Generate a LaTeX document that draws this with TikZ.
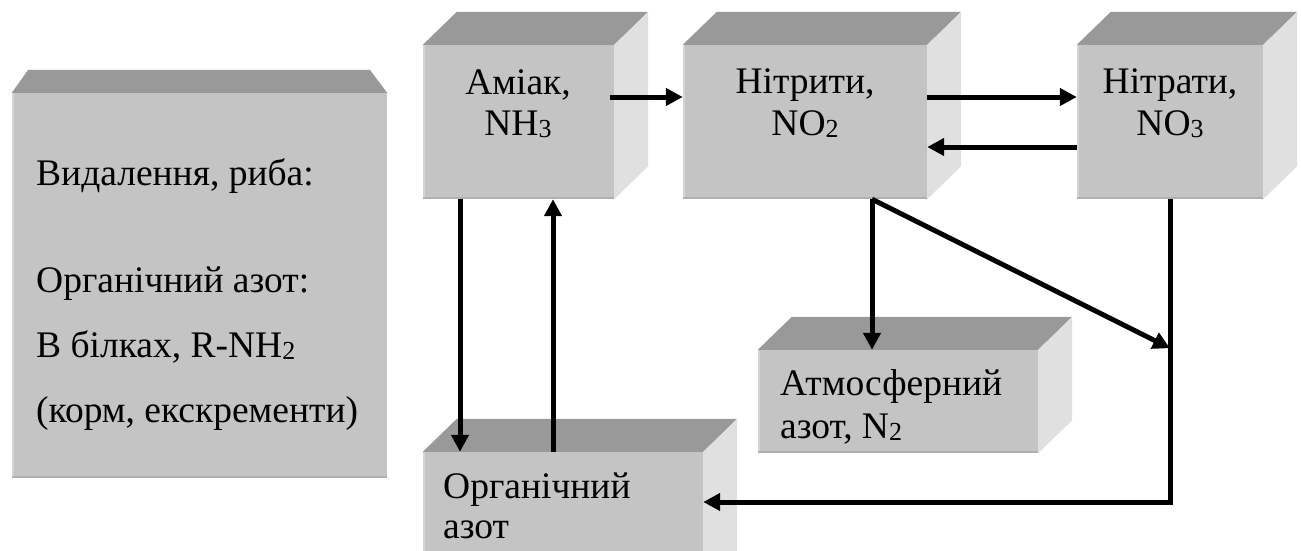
\documentclass[tikz,border=0pt]{standalone}
\usepackage{fontspec}
\setmainfont{Liberation Serif}
\newfontfamily\diagfont{Liberation Serif}
\usetikzlibrary{arrows.meta,calc}
\definecolor{frontc}{RGB}{196,196,196}
\definecolor{topc}{RGB}{153,153,153}
\definecolor{sidec}{RGB}{224,224,224}
\definecolor{edgelight}{RGB}{212,212,212}
\definecolor{edgedark}{RGB}{176,176,176}
\newcommand\subs[1]{\raisebox{-0.07em}{\fontsize{26}{26}\selectfont #1}}
\newcommand\cubefaces[1]{%
  \fill[topc] (#1.north west) -- ($(#1.north west)+(34,-33)$) -- ($(#1.north east)+(34,-33)$) -- (#1.north east) -- cycle;
  \fill[sidec] (#1.north east) -- ($(#1.north east)+(34,-33)$) -- ($(#1.south east)+(34,-33)$) -- (#1.south east) -- cycle;
  \draw[edgelight,line width=2pt] ([xshift=1pt]#1.south west) -- ([xshift=1pt]#1.north west);
  \draw[edgedark,line width=2pt] ([yshift=1pt]#1.south west) -- ([yshift=1pt]#1.south east);
}
\tikzset{
  face/.style={fill=frontc, draw=none, inner sep=0pt, minimum width=#1},
  txt/.style={font=\diagfont\fontsize{37.5}{42}\selectfont, inner sep=0pt},
  arr/.style={line width=5pt, -{Triangle[length=17pt,width=17pt]}},
  ln/.style={line width=5pt}
}
\begin{document}
\begin{tikzpicture}[x=1pt,y=-1pt]
\clip (0,0) rectangle (1301,551);
\useasboundingbox (0,0) rectangle (1301,551);
\fill[white] (0,0) rectangle (1301,551);

% left box
\node[face=375pt, minimum height=385pt] (left) at (199.5,285.5) {};
\fill[topc] (left.north west) -- (28,70) -- (370,70) -- (left.north east) -- cycle;
\draw[edgelight,line width=2pt] ([xshift=1pt]left.south west) -- ([xshift=1pt]left.north west);
\draw[edgedark,line width=2pt] ([yshift=1pt]left.south west) -- ([yshift=1pt]left.south east);
\node[txt, anchor=base west] (l1) at (36,185) {Видалення, риба:};
\node[txt, anchor=base west] (l2) at (36,292) {Органічний азот:};
\node[txt, anchor=base west] (l3) at (36,357) {В білках, R-NH\subs{2}};
\node[txt, anchor=base west] (l4) at (36,422) {(корм, екскременти)};

% boxes
\node[face=191pt, minimum height=154pt] (amiak) at (518.5,122) {};
\cubefaces{amiak}
\node[face=244pt, minimum height=154pt] (nitryty) at (805,122) {};
\cubefaces{nitryty}
\node[face=186pt, minimum height=154pt] (nitraty) at (1170,122) {};
\cubefaces{nitraty}
\node[face=280pt, minimum height=103pt] (atm) at (898,401.5) {};
\cubefaces{atm}
\node[face=280pt, minimum height=148pt] (org) at (563,526) {};
\cubefaces{org}

% texts
\node[txt, anchor=base] (am1) at (518,95) {Аміак,};
\node[txt, anchor=base] (am2) at (518,135) {NH\subs{3}};
\node[txt, anchor=base] (ni1) at (805,93) {Нітрити,};
\node[txt, anchor=base] (ni2) at (805,135) {NO\subs{2}};
\node[txt, anchor=base] (na1) at (1170,93) {Нітрати,};
\node[txt, anchor=base] (na2) at (1170,135) {NO\subs{3}};
\node[txt, anchor=base west] (at1) at (780,395) {Атмосферний};
\node[txt, anchor=base west] (at2) at (780,438) {азот, N\subs{2}};
\node[txt, anchor=base west] (or1) at (443,498) {Органічний};
\node[txt, anchor=base west] (or2) at (443,538) {азот};

% connectors
\draw[arr] ([xshift=-4pt,yshift=25pt]amiak.east) -- ([yshift=25pt]nitryty.west);
\draw[arr] ([yshift=25pt]nitryty.east) -- ([yshift=25pt]nitraty.west);
\draw[arr] ([yshift=-25pt]nitraty.west) -- ([yshift=-25pt]nitryty.east);
\draw[arr] ([xshift=-58.5pt]amiak.south) -- ([xshift=-58.5pt]amiak.south |- org.north);
\draw[arr] ([xshift=34.5pt]amiak.south |- org.north) -- ([xshift=34.5pt]amiak.south);
\draw[arr] ([xshift=67pt]nitryty.south) -- ([xshift=67pt]nitryty.south |- atm.north);
\draw[arr] ([xshift=67pt]nitryty.south) -- ([yshift=-149pt]nitraty.south);
\draw[arr] (nitraty.south) |- ([yshift=24pt]org.east);
\end{tikzpicture}
\end{document}
